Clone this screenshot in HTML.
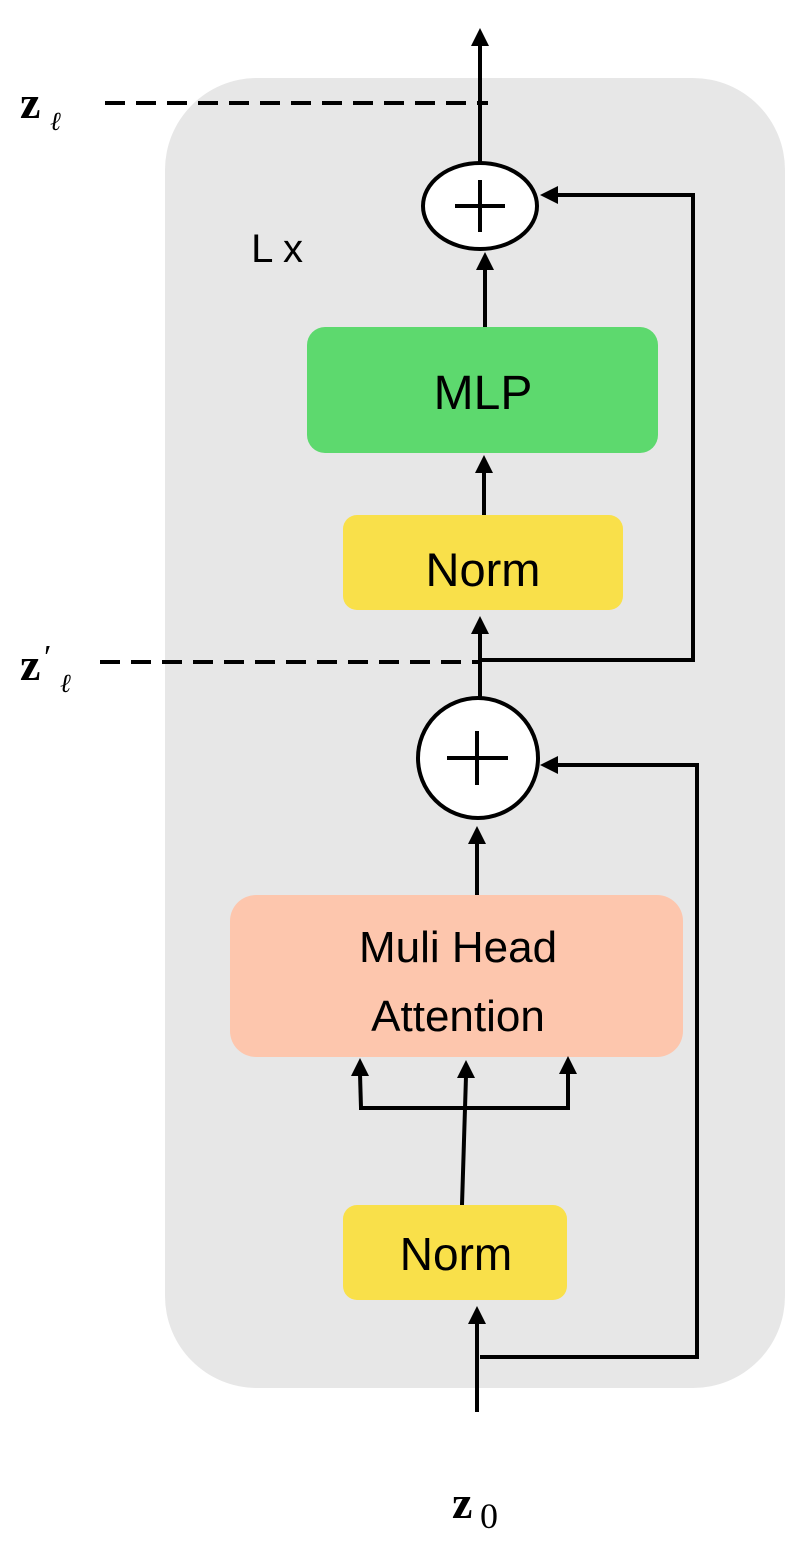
<!DOCTYPE html>
<html><head><meta charset="utf-8"><style>
html,body{margin:0;padding:0;background:#fff;}
svg{display:block;}
</style></head><body>
<svg width="808" height="1545" viewBox="0 0 808 1545" xmlns="http://www.w3.org/2000/svg">
<rect x="165" y="78" width="620" height="1310" rx="92" fill="#e7e7e7"/>
<rect x="307" y="327" width="351" height="126" rx="18" fill="#5dd96e"/>
<rect x="343" y="515" width="280" height="95" rx="14" fill="#f9e04a"/>
<rect x="230" y="895" width="453" height="162" rx="26" fill="#fdc6ad"/>
<rect x="343" y="1205" width="224" height="95" rx="14" fill="#f9e04a"/>
<g stroke="#000" stroke-width="4" fill="none">
<line x1="480" y1="165" x2="480" y2="42"/>
<polygon points="480,28 471,46 489,46" fill="#000" stroke="none"/>
<line x1="105" y1="103" x2="488" y2="103" stroke-dasharray="20,11"/>
<ellipse cx="480" cy="206" rx="57" ry="43" fill="#fff"/>
<polyline points="545,195 693,195 693,660 482,660"/>
<polygon points="540,195 558,186 558,204" fill="#000" stroke="none"/>
<line x1="485" y1="327" x2="485" y2="265"/>
<polygon points="485,252 476,270 494,270" fill="#000" stroke="none"/>
<line x1="484" y1="515" x2="484" y2="470"/>
<polygon points="484,455 475,473 493,473" fill="#000" stroke="none"/>
<line x1="480" y1="700" x2="480" y2="630"/>
<polygon points="480,616 471,634 489,634" fill="#000" stroke="none"/>
<line x1="100" y1="662" x2="478" y2="662" stroke-dasharray="20,11"/>
<ellipse cx="478" cy="758" rx="60" ry="60" fill="#fff"/>
<polyline points="545,765 697,765 697,1357 480,1357"/>
<polygon points="540,765 558,756 558,774" fill="#000" stroke="none"/>
<line x1="477" y1="895" x2="477" y2="838"/>
<polygon points="477,826 468,844 486,844" fill="#000" stroke="none"/>
<line x1="359" y1="1108" x2="570" y2="1108"/>
<line x1="361" y1="1108" x2="360" y2="1074"/>
<polygon points="360,1058 351,1076 369,1076" fill="#000" stroke="none"/>
<line x1="568" y1="1108" x2="568" y2="1072"/>
<polygon points="568,1056 559,1074 577,1074" fill="#000" stroke="none"/>
<line x1="462" y1="1205" x2="466" y2="1076"/>
<polygon points="466,1060 457,1078 475,1078" fill="#000" stroke="none"/>
<line x1="477" y1="1412" x2="477" y2="1320"/>
<polygon points="477,1306 468,1324 486,1324" fill="#000" stroke="none"/>
</g>
<g stroke="#000" stroke-width="4">
<line x1="480" y1="180" x2="480" y2="232"/><line x1="455" y1="206" x2="505" y2="206"/>
<line x1="477" y1="731" x2="477" y2="785"/><line x1="447" y1="758" x2="508" y2="758"/>
</g>
<g font-family="Liberation Sans, sans-serif" fill="#000" text-anchor="middle">
<text x="483" y="409" font-size="48">MLP</text>
<text x="483" y="586" font-size="47">Norm</text>
<text x="458" y="962" font-size="44">Muli Head</text>
<text x="458" y="1031" font-size="44">Attention</text>
<text x="456" y="1270" font-size="46">Norm</text>
<text x="277" y="262" font-size="40">L x</text>
</g>
<g font-family="Liberation Serif, serif" fill="#000">
<text x="20" y="118" font-size="46" font-weight="bold">z</text>
<text x="50" y="130" font-size="26" font-style="italic">ℓ</text>
<text x="20" y="680" font-size="46" font-weight="bold">z</text>
<text x="44" y="668" font-size="34">′</text>
<text x="60" y="692" font-size="26" font-style="italic">ℓ</text>
<text x="452" y="1518" font-size="46" font-weight="bold">z</text>
<text x="480" y="1528" font-size="36">0</text>
</g>
</svg>
</body></html>
